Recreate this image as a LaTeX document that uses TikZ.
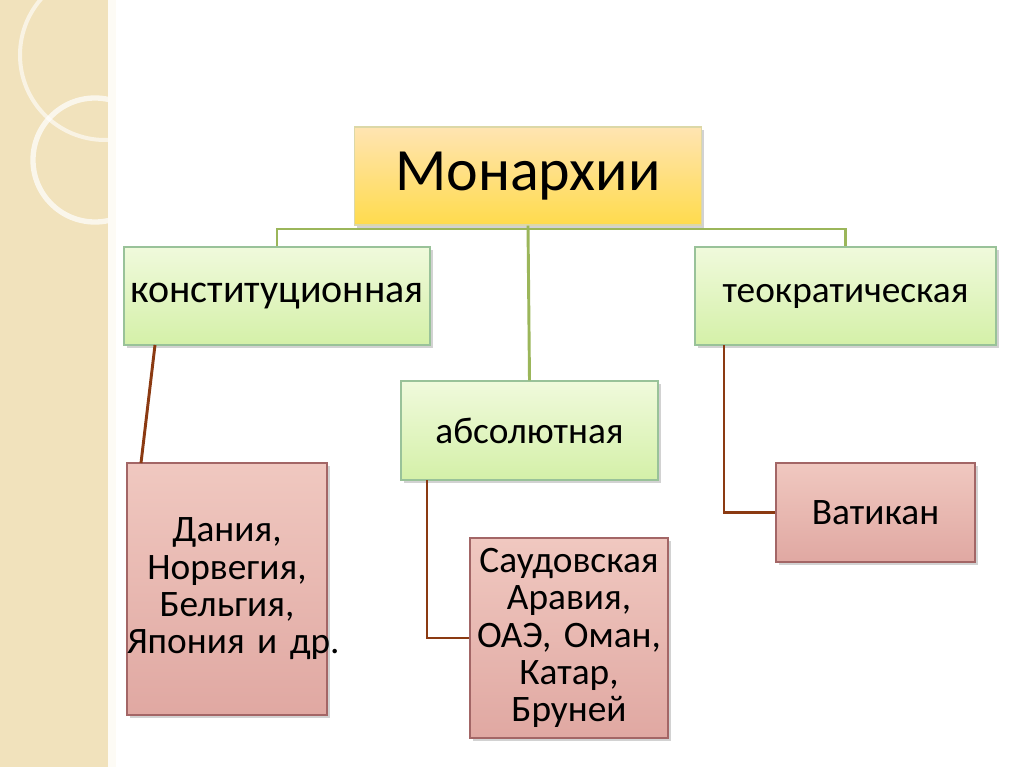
\documentclass[tikz,border=0pt]{standalone}
\usepackage{fontspec}
\setmainfont{Carlito}
\usetikzlibrary{shadows}
\definecolor{band}{HTML}{F1E2BC}
\definecolor{gline}{HTML}{9BB65A}
\definecolor{bline}{HTML}{8B3A12}
\definecolor{pk1}{HTML}{F0C8C0}
\definecolor{pk2}{HTML}{E0A8A2}
\definecolor{gr1}{HTML}{F0FADC}
\definecolor{gr2}{HTML}{D4F0A8}
\tikzset{
 bx/.style={draw=#1, line width=0.8pt, drop shadow={shadow xshift=2pt,shadow yshift=-2pt,opacity=0.35}, align=center, inner sep=0pt},
 ybox/.style={bx=yellow!60!black!40, top color=yellow!30!orange!30!white, bottom color=yellow!60!orange!70, text width=#1},
 gbox/.style={bx=green!40!black!40, top color=gr1, bottom color=gr2, text width=#1},
 pbox/.style={bx=red!40!black!60, top color=pk1, bottom color=pk2, text width=#1},
 gl/.style={gline, line width=2.2pt},
 bl/.style={bline, line width=2.2pt},
 tx/.style={font=\fontsize{28}{28}\selectfont}
}
\begin{document}
\begin{tikzpicture}[x=0.75pt,y=-0.75pt]
\useasboundingbox (0,0) rectangle (1024,767);
\fill[white] (0,0) rectangle (1024,767);
\fill[band] (0,0) rectangle (112,767);
\draw[white, line width=4pt, opacity=0.7] (95,160) circle (62);
\draw[white, line width=3pt, opacity=0.6] (105,55) circle (85);
\draw[white!85!band, line width=6pt] (112,0) -- (112,767);
% boxes
\node[ybox=347*0.75pt, minimum height=98*0.75pt, font=\fontsize{45}{50}\selectfont] (m) at (528,176) {Монархии};
\node[gbox=306*0.75pt, minimum height=98*0.75pt, font=\fontsize{30}{30}\selectfont] (k) at (277,296) {конституционная};
\node[gbox=257*0.75pt, minimum height=99*0.75pt, tx] (a) at (529.5,430.5) {абсолютная};
\node[gbox=301*0.75pt, minimum height=98*0.75pt, tx] (t) at (845.5,296) {теократическая};
\node[pbox=200*0.75pt, minimum height=252*0.75pt, tx] (d) at (227,589) {Дания,\\Норвегия,\\Бельгия,\\\mbox{Япония и др.}};
\node[pbox=198*0.75pt, minimum height=200*0.75pt, tx] (s) at (569,638) {Саудовская\\Аравия,\\ОАЭ, Оман,\\Катар,\\Бруней};
\node[pbox=199*0.75pt, minimum height=99*0.75pt, tx] (v) at (875.5,512.5) {Ватикан};
% connectors
\coordinate (h) at (529,229);
\draw[gl] (m.south) -- (a.north);
\draw[gl] (k.north) -- (k.north|-h) -- (t.north|-h) -- (t.north);
\draw[bl] (155,345) -- (141,463);
\draw[bl] (427,480) |- (s.west);
\draw[bl] (724,345) |- (v.west);
\end{tikzpicture}
\end{document}
